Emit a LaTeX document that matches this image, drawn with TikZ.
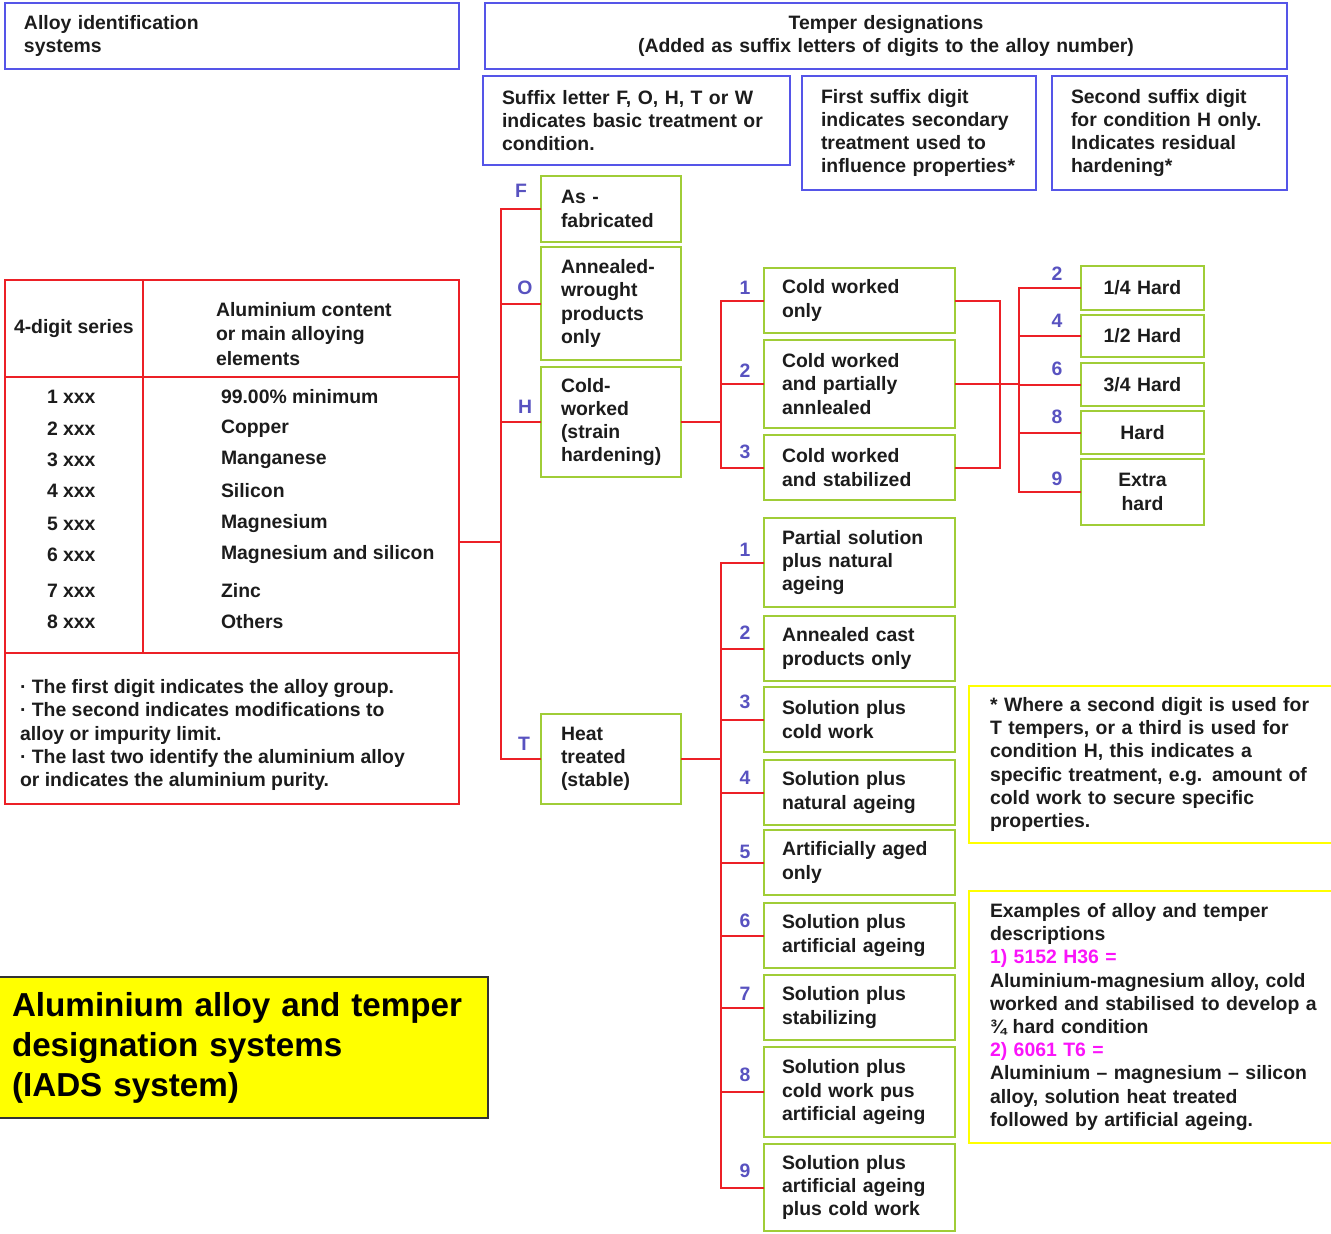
\documentclass[tikz,border=0pt]{standalone}
\usepackage{fontspec}
\setmainfont{Liberation Sans}
\definecolor{blueb}{RGB}{85,85,232}
\definecolor{redc}{RGB}{236,32,38}
\definecolor{greenc}{RGB}{160,205,55}
\definecolor{yell}{RGB}{255,255,0}
\definecolor{lblc}{RGB}{88,82,192}
\definecolor{txt}{RGB}{28,28,28}
\definecolor{mag}{RGB}{250,20,250}
\newcommand\drawbox[8]{%
  \pgfmathsetmacro\bxw{(#5-#3)*0.5}%
  \pgfmathsetmacro\bxh{(#6-#4)*0.5}%
  \pgfmathsetmacro\bxt{(#5-#3-2*#7)*0.5}%
  \pgfmathsetmacro\bxp{#7*0.5}%
  \node[#2, minimum width=\bxw pt, minimum height=\bxh pt, text width=\bxt pt, inner xsep=\bxp pt] (#1) at ({(#3+#5)/2},{(#4+#6)/2}) {#8};}
\begin{document}
\begin{tikzpicture}[x=0.5pt,y=-0.5pt,
  every node/.style={font=\fontsize{9.7}{11.6}\selectfont\bfseries, text=txt, outer sep=0pt},
  bx/.style={draw, line width=1pt, inner ysep=0pt, align=left},
  bluebox/.style={bx, draw=blueb},
  greenbox/.style={bx, draw=greenc},
  notebox/.style={bx, draw=yell},
  tablebox/.style={bx, draw=redc},
  titlebox/.style={bx, draw=black!80, line width=1pt, fill=yell, font=\fontsize{16.6}{20}\selectfont\bfseries, text=black},
  conn/.style={draw=redc, line width=1pt},
  lbl/.style={text=lblc, inner sep=0pt},
  cell/.style={anchor=west, inner sep=0pt, align=left}
]
\useasboundingbox (0,0) rectangle (1331,1233);

% top headers
\drawbox{ais}{bluebox}{5}{3}{459}{69}{19}{Alloy identification\\systems}
\drawbox{td}{bluebox, align=center}{485}{3}{1287}{69}{19}{Temper designations\\(Added as suffix letters of digits to the alloy number)}
\drawbox{sl}{bluebox}{483}{76}{790}{165}{19}{Suffix letter F, O, H, T or W\\indicates basic treatment or\\condition.}
\drawbox{fs}{bluebox}{802}{76}{1036}{190}{19}{First suffix digit\\indicates secondary\\treatment used to\\influence properties*}
\drawbox{ss}{bluebox}{1052}{76}{1287}{190}{19}{Second suffix digit\\for condition H only.\\Indicates residual\\hardening*}

% table
\drawbox{tbl}{tablebox}{5}{280}{459}{804}{0}{}
\draw[conn] (143,280) -- (143,653);
\draw[conn] (5,377) -- (459,377);
\draw[conn] (5,653) -- (459,653);
\node[cell] (hs) at (14,329) {4-digit series};
\node[cell, font=\fontsize{9.7}{12.2}\selectfont\bfseries] (hc) at (216,334) {Aluminium content\\or main alloying\\elements};
\node[cell] (s1) at (47,397) {1 xxx};
\node[cell] (s2) at (47,429) {2 xxx};
\node[cell] (s3) at (47,460) {3 xxx};
\node[cell] (s4) at (47,491) {4 xxx};
\node[cell] (s5) at (47,524) {5 xxx};
\node[cell] (s6) at (47,555) {6 xxx};
\node[cell] (s7) at (47,591) {7 xxx};
\node[cell] (s8) at (47,622) {8 xxx};
\node[cell] (c1) at (221,397) {99.00\% minimum};
\node[cell] (c2) at (221,429) {Copper};
\node[cell] (c3) at (221,460) {Manganese};
\node[cell] (c4) at (221,491) {Silicon};
\node[cell] (c5) at (221,524) {Magnesium};
\node[cell] (c6) at (221,555) {Magnesium and silicon};
\node[cell] (c7) at (221,591) {Zinc};
\node[cell] (c8) at (221,622) {Others};
\node[cell] (nt) at (20,735) {· The first digit indicates the alloy group.\\· The second indicates modifications to\\alloy or impurity limit.\\· The last two identify the aluminium alloy\\or indicates the aluminium purity.};

% basic tempers
\drawbox{F}{greenbox}{541}{176}{681}{242}{20}{As -\\fabricated}
\drawbox{O}{greenbox}{541}{247}{681}{360}{20}{Annealed-\\wrought\\products\\only}
\drawbox{H}{greenbox}{541}{367}{681}{477}{20}{Cold-\\worked\\(strain\\hardening)}
\drawbox{T}{greenbox}{541}{714}{681}{804}{20}{Heat\\treated\\(stable)}
\node[lbl] (lF) at (521,191) {F};
\node[lbl] (lO) at (525,288) {O};
\node[lbl] (lH) at (525,407) {H};
\node[lbl] (lT) at (524,744) {T};

% H subdivisions
\drawbox{H1}{greenbox}{764}{268}{955}{333}{18}{Cold worked\\only}
\drawbox{H2}{greenbox}{764}{340}{955}{428}{18}{Cold worked\\and partially\\annlealed}
\drawbox{H3}{greenbox}{764}{435}{955}{500}{18}{Cold worked\\and stabilized}
\node[lbl] (lH1) at (745,288) {1};
\node[lbl] (lH2) at (745,371) {2};
\node[lbl] (lH3) at (745,452) {3};

% residual hardening
\drawbox{R2}{greenbox, align=center}{1081}{266}{1204}{310}{8}{1/4 Hard}
\drawbox{R4}{greenbox, align=center}{1081}{315}{1204}{357}{8}{1/2 Hard}
\drawbox{R6}{greenbox, align=center}{1081}{363}{1204}{406}{8}{3/4 Hard}
\drawbox{R8}{greenbox, align=center}{1081}{411}{1204}{454}{8}{Hard}
\drawbox{R9}{greenbox, align=center}{1081}{459}{1204}{525}{8}{Extra\\hard}
\node[lbl] (lR2) at (1057,274) {2};
\node[lbl] (lR4) at (1057,321) {4};
\node[lbl] (lR6) at (1057,369) {6};
\node[lbl] (lR8) at (1057,417) {8};
\node[lbl] (lR9) at (1057,479) {9};

% T subdivisions
\drawbox{T1}{greenbox}{764}{518}{955}{607}{18}{Partial solution\\plus natural\\ageing}
\drawbox{T2}{greenbox}{764}{616}{955}{681}{18}{Annealed cast\\products only}
\drawbox{T3}{greenbox}{764}{687}{955}{752}{18}{Solution plus\\cold work}
\drawbox{T4}{greenbox}{764}{760}{955}{825}{18}{Solution plus\\natural ageing}
\drawbox{T5}{greenbox}{764}{830}{955}{895}{18}{Artificially aged\\only}
\drawbox{T6}{greenbox}{764}{903}{955}{968}{18}{Solution plus\\artificial ageing}
\drawbox{T7}{greenbox}{764}{975}{955}{1040}{18}{Solution plus\\stabilizing}
\drawbox{T8}{greenbox}{764}{1047}{955}{1137}{18}{Solution plus\\cold work pus\\artificial ageing}
\drawbox{T9}{greenbox}{764}{1144}{955}{1231}{18}{Solution plus\\artificial ageing\\plus cold work}
\node[lbl] (lT1) at (745,550) {1};
\node[lbl] (lT2) at (745,633) {2};
\node[lbl] (lT3) at (745,702) {3};
\node[lbl] (lT4) at (745,778) {4};
\node[lbl] (lT5) at (745,852) {5};
\node[lbl] (lT6) at (745,921) {6};
\node[lbl] (lT7) at (745,994) {7};
\node[lbl] (lT8) at (745,1075) {8};
\node[lbl] (lT9) at (745,1171) {9};

% notes
\drawbox{N1}{notebox}{969}{686}{1400}{843}{21}{* Where a second digit is used for\\T tempers, or a third is used for\\condition H, this indicates a\\specific treatment, e.g. amount of\\cold work to secure specific\\properties.}
\drawbox{N2}{notebox}{969}{891}{1400}{1143}{21}{Examples of alloy and temper\\descriptions\\{\color{mag}1) 5152 H36 =}\\Aluminium-magnesium alloy, cold\\worked and stabilised to develop a\\¾ hard condition\\{\color{mag}2) 6061 T6 =}\\Aluminium – magnesium – silicon\\alloy, solution heat treated\\followed by artificial ageing.}

% title
\drawbox{ttl}{titlebox}{-2}{977}{488}{1118}{14}{Aluminium alloy and temper\\designation systems\\(IADS system)}

% connectors: main trunk
\path (tbl.east) ++(42,0) coordinate (tr);
\draw[conn] (tbl.east) -- (tr);
\draw[conn] (F.west) -| (tr);
\draw[conn] (T.west) -| (tr);
\draw[conn] (O.west) -- (O.west -| tr);
\draw[conn] (H.west) -- (H.west -| tr);

% H branch
\path (H.east) ++(40,0) coordinate (hj);
\draw[conn] (H.east) -- (hj);
\draw[conn] (H1.west) -| (hj);
\draw[conn] (H3.west) -| (hj);
\draw[conn] (H2.west) -- (H2.west -| hj);

% collect H1-H3 and fan out to residual hardening
\path (H2.east) ++(45,0) coordinate (hk) ++(19,0) coordinate (hm);
\draw[conn] (H1.east) -| (hk);
\draw[conn] (H3.east) -| (hk);
\draw[conn] (H2.east) -- (hm);
\draw[conn] (R2.west) -| (hm);
\draw[conn] (R9.west) -| (hm);
\draw[conn] (R4.west) -- (R4.west -| hm);
\draw[conn] (R6.west) -- (R6.west -| hm);
\draw[conn] (R8.west) -- (R8.west -| hm);

% T branch
\path (T.east) ++(40,0) coordinate (tj);
\draw[conn] (T.east) -- (tj);
\draw[conn] (T1.west) -| (tj);
\draw[conn] (T9.west) -| (tj);
\foreach \n in {T2,T3,T4,T5,T6,T7,T8}{\draw[conn] (\n.west) -- (\n.west -| tj);}
\end{tikzpicture}
\end{document}
